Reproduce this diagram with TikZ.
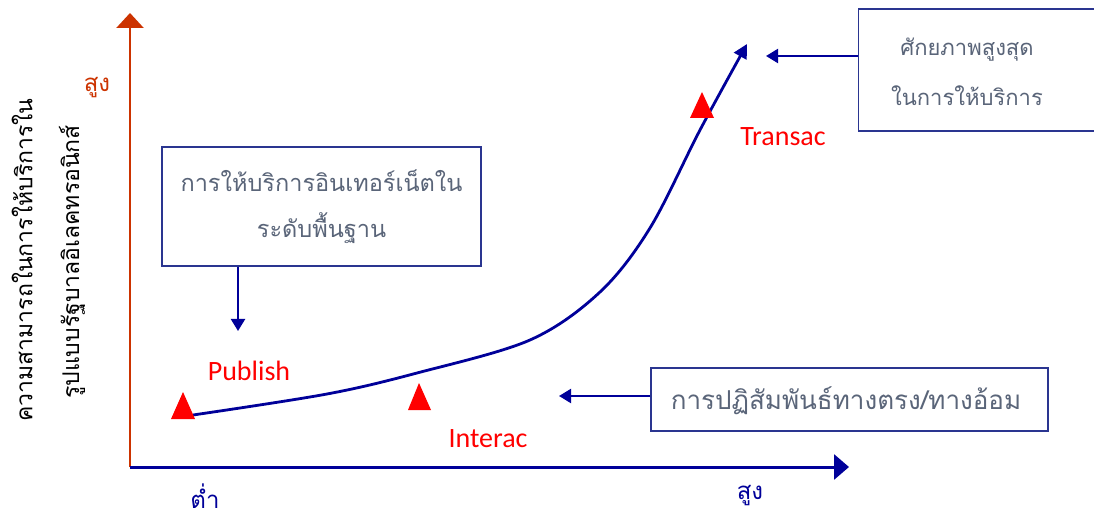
\documentclass[tikz,border=0pt]{standalone}
\usepackage{fontspec}
\setmainfont{Carlito}
\newfontfamily\thai[Script=Thai]{Loma}
\usetikzlibrary{arrows.meta}
\definecolor{navy}{HTML}{000099}
\definecolor{boxline}{HTML}{2A3590}
\definecolor{boxtext}{HTML}{5A6579}
\definecolor{axisred}{HTML}{CC3300}
\definecolor{tri}{HTML}{FF0000}
\tikzset{
  infobox/.style={draw=boxline, line width=1.3pt, fill=white, align=center, text=boxtext, inner sep=0pt},
  boxtxt/.style={align=center, text=boxtext, font=\thai\fontsize{22}{46}\selectfont},
  conn/.style={draw=navy, line width=2.2pt, -{Triangle[length=12pt,width=14pt]}},
  redlabel/.style={text=tri, font=\fontsize{28}{30}\selectfont},
  marker/.style={fill=tri, draw=none},
  vlabel/.style={font=\thai\fontsize{23}{26}\selectfont, rotate=90, text=black},
  axlabel/.style={font=\thai\fontsize{24}{26}\selectfont, inner sep=1pt},
}
\begin{document}
\begin{tikzpicture}[x=1pt,y=-1pt]
\useasboundingbox (0,0) rectangle (1094,518);
% axes
\coordinate (O) at (130,467);
\coordinate (ytop) at (130,13);
\coordinate (xend) at (849,467);
\draw[axisred, line width=2.5pt, -{Triangle[length=15pt,width=27pt]}] (O) -- (ytop);
\draw[navy, line width=3pt, -{Triangle[length=15pt,width=25pt]}] (O) -- (xend);
% axis labels
\node[axlabel, text=axisred] (yhigh) at (97,88) {สูง};
\node[vlabel] (ylab1) at (22,260) {ความสามารถในการให้บริการใน};
\node[vlabel] (ylab2) at (72,262) {รูปแบบรัฐบาลอิเลคทรอนิกส์};
\node[axlabel, text=navy] (xlow) at (205,496) {ต่ำ};
\node[axlabel, text=navy] (xhigh) at (750,496) {สูง};
% curve
\draw[navy, line width=2.8pt, -{Triangle[length=14pt,width=14pt]}] plot[smooth, tension=0.55] coordinates {(193,415) (327,394) (417,373) (530,340) (600,292) (650,228) (700,130) (747,44)};
% markers
\fill[marker] (171,419) -- (195,419) -- (183,392) -- cycle;
\fill[marker] (408,410) -- (431,410) -- (419,383) -- cycle;
\fill[marker] (690,118) -- (714,118) -- (702,92) -- cycle;
\node[redlabel] (publish) at (249,371) {Publish};
\node[redlabel] (interac) at (488,439) {Interac};
\node[redlabel] (transac) at (783,137) {Transac};
% boxes
\node[infobox, minimum width=319pt, minimum height=119pt] (b1) at (321.5,206.5) {};
\node[boxtxt, font=\thai\fontsize{23.5}{46}\selectfont] (b1t) at (b1) {การให้บริการอินเทอร์เน็ตใน\\ระดับพื้นฐาน};
\node[infobox, minimum width=250pt, minimum height=122pt, anchor=west] (b2) at (858,70) {};
\node[boxtxt, font=\thai\fontsize{22}{50}\selectfont] (b2t) at (967,72) {ศักยภาพสูงสุด\\ในการให้บริการ};
\node[infobox, minimum width=397pt, minimum height=63pt] (b3) at (849.5,399.5) {};
\node[boxtxt, font=\thai\fontsize{26}{30}\selectfont] (b3t) at (846,401) {การปฏิสัมพันธ์ทางตรง/ทางอ้อม};
% arrows from boxes
\coordinate (a1) at (238,331);
\coordinate (a2) at (766,56);
\coordinate (a3) at (559,396);
\draw[conn] (b1.south -| a1) -- (a1);
\draw[conn] (b2.west |- a2) -- (a2);
\draw[conn] (b3.west |- a3) -- (a3);
\end{tikzpicture}
\end{document}
